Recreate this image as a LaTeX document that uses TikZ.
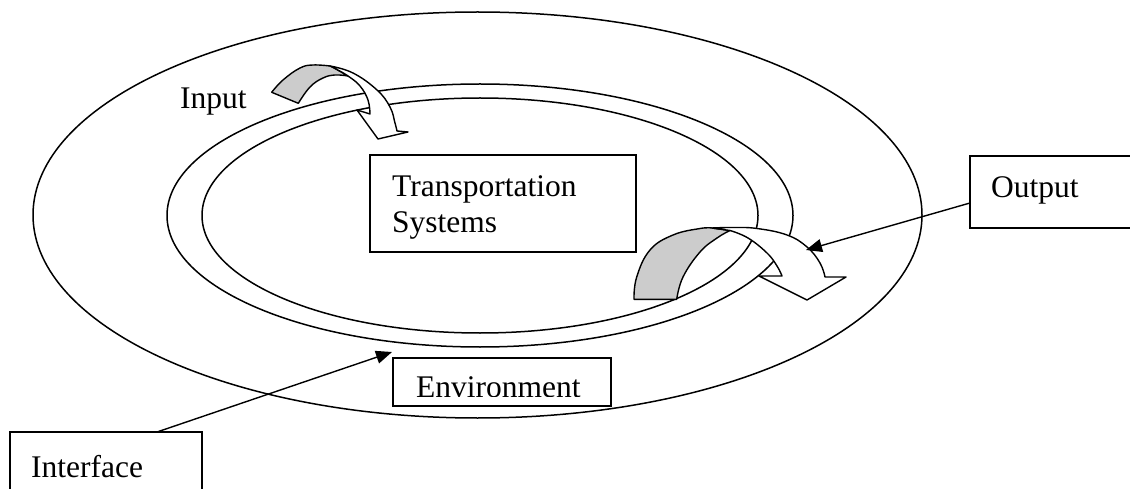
\documentclass[tikz,border=0pt]{standalone}
\usepackage{fontspec}
\setmainfont{Liberation Serif}
\usetikzlibrary{arrows.meta}
\begin{document}
\begin{tikzpicture}[x=1pt,y=-1pt,
  ring/.style={line width=1.5pt},
  box/.style={draw, line width=1.5pt, rectangle, inner sep=0pt, outer sep=0pt, anchor=north west},
  lbl/.style={anchor=base west, inner sep=0pt, font=\fontsize{31.5}{35.5}\selectfont},
  ribbon/.style={draw, line width=1.4pt, line join=round},
  pointer/.style={line width=1.4pt, -{Triangle[length=16pt,width=13pt]}}
]
\useasboundingbox (0,0) rectangle (1130,489);
\clip (0,0) rectangle (1130,489);

% environment, outer and inner boundary of the interface ring
\draw[ring] (477.5,215) ellipse [x radius=444.5pt, y radius=203pt];
\draw[ring] (480,215.5) ellipse [x radius=313pt, y radius=131.5pt];
\draw[ring] (480,215.5) ellipse [x radius=278pt, y radius=117.5pt];

% curved input arrow: shaded underside, then the front band with its head
\filldraw[ribbon, fill=gray!40]
  plot[smooth, tension=0.7] coordinates {(271.7,92.3) (283,80) (300,68) (313,65) (330,66)}
  -- plot[smooth, tension=0.7] coordinates {(330,66) (336,69) (348,76)}
  -- plot[smooth, tension=0.7] coordinates {(348,76) (335,75) (323,78) (310,87) (298.3,103.3)}
  -- cycle;
\filldraw[ribbon, fill=white]
  plot[smooth, tension=0.7] coordinates {(330,66) (353,73) (377,90) (390,107) (395,123) (397,131)}
  -- (408,132) -- (378,139) -- (357,110) -- (370,114)
  -- plot[smooth, tension=0.7] coordinates {(370,114) (368,100) (360,86) (348,76) (336,69) (330,66)}
  -- cycle;

% curved output arrow
\filldraw[ribbon, fill=gray!40]
  plot[smooth, tension=0.7] coordinates {(634,299.3) (636.7,277) (650,250) (673,235) (700,228.5) (712,228)}
  -- (730,230.5)
  -- plot[smooth, tension=0.7] coordinates {(730,230.5) (717,238) (700,252) (683,277) (676.7,299.3)}
  -- cycle;
\filldraw[ribbon, fill=white]
  plot[smooth, tension=0.7] coordinates {(712,228) (733,227.5) (757,228.5) (787,235) (807,247) (820,263) (825,277)}
  -- (846,277) -- (807,300) -- (759,276) -- (782,276)
  -- plot[smooth, tension=0.7] coordinates {(782,276) (777,266) (767,253) (748,238) (730,230.5)}
  -- (712,228) -- cycle;

% label boxes
\node[box, minimum width=266pt, minimum height=97pt] (tsbox) at (370,155) {};
\node[box, minimum width=170pt, minimum height=72pt] (outbox) at (970,156) {};
\node[box, minimum width=218pt, minimum height=48pt] (envbox) at (393,358) {};
\node[box, minimum width=192pt, minimum height=70pt] (ifbox) at (10,432) {};

% texts
\node[lbl] (input) at (180,109) {Input};
\node[lbl] (ts1) at (392,197) {Transportation};
\node[lbl] (ts2) at (392,232.5) {Systems};
\node[lbl] (output) at (991,198) {Output};
\node[lbl] (iface) at (31,477) {Interface};
\begin{scope}
  \clip (393,358) rectangle (611,396);
  \node[lbl] (env) at (416,397.5) {Environment};
\end{scope}

% pointers
\coordinate (iftip) at (392,352);
\coordinate (outtip) at (806,250);
\draw[pointer] ([xshift=147pt]ifbox.north west) -- (iftip);
\draw[pointer] ([yshift=-11pt]outbox.west) -- (outtip);
\end{tikzpicture}
\end{document}
